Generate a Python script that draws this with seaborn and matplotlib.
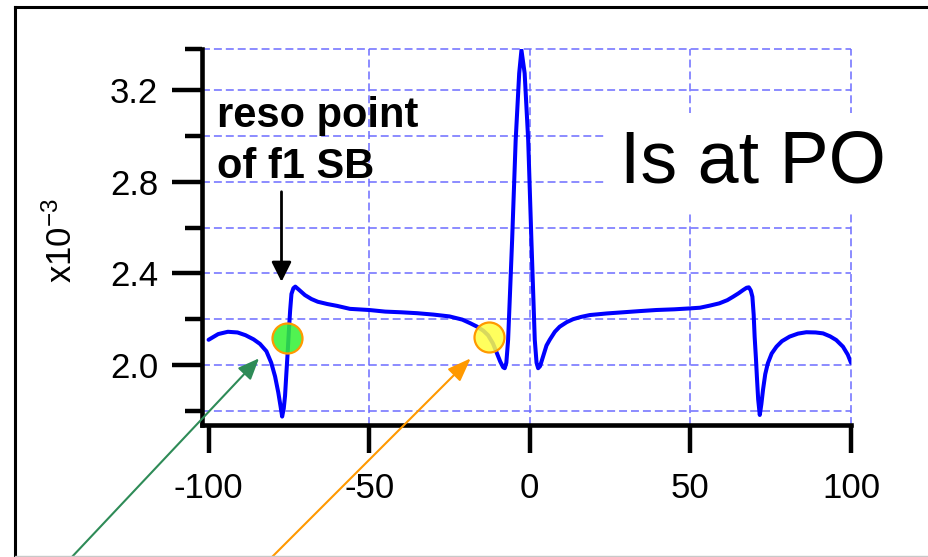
import matplotlib
matplotlib.use("Agg")
import matplotlib.pyplot as plt
import seaborn as sns
import pandas as pd
from matplotlib.lines import Line2D

# ---------------- data ----------------
x_vals = [-100, -97, -94, -91, -88.5, -86, -84, -82, -80.5, -79.3, -78.3, -77.6,
          -77.1, -76.6, -76.2, -75.8, -75.4, -75.0, -74.6, -74.2, -73.6, -73.0,
          -72, -70, -68, -66, -63, -60, -56, -50, -45, -40, -35, -30, -25, -21,
          -18.5, -16.5, -14.5, -13, -11.5, -10.2, -9.2, -8.3, -7.8, -7.3, -6.75,
          -6.2, -5.5, -4.4, -3.3, -2.6, -1.6, -0.5, 0.5, 1.55, 2.1, 2.6, 3.2, 4.2,
          5.2, 6.2, 7.8, 9.3, 11.5, 13.5, 16, 18.7, 24, 29, 34, 39.4, 45, 49.8,
          53, 56, 59, 61.5, 63.3, 65, 66.4, 67.5, 68.2, 68.8, 69.3, 69.7, 70.0,
          70.4, 70.7, 71.1, 71.6, 72.1, 72.6, 73.3, 74.1, 75.3, 76.8, 78.5, 80.9,
          83.5, 86.1, 89, 91.3, 93.5, 95.4, 97.5, 99, 100]
y_vals = [2.110, 2.135, 2.145, 2.142, 2.130, 2.112, 2.092, 2.060, 2.010, 1.950,
          1.880, 1.820, 1.775, 1.810, 1.865, 1.960, 2.050, 2.150, 2.240, 2.310,
          2.335, 2.342, 2.330, 2.305, 2.288, 2.276, 2.266, 2.258, 2.245, 2.240,
          2.233, 2.230, 2.226, 2.220, 2.212, 2.198, 2.182, 2.168, 2.150, 2.130,
          2.095, 2.050, 2.015, 1.990, 1.986, 2.010, 2.110, 2.300, 2.545, 2.980,
          3.273, 3.374, 3.273, 2.982, 2.545, 2.110, 2.010, 1.986, 1.995, 2.040,
          2.085, 2.110, 2.145, 2.167, 2.187, 2.200, 2.210, 2.218, 2.225, 2.230,
          2.235, 2.240, 2.243, 2.247, 2.250, 2.259, 2.269, 2.283, 2.298, 2.313,
          2.327, 2.337, 2.339, 2.325, 2.298, 2.220, 2.124, 2.030, 1.949, 1.850,
          1.782, 1.830, 1.891, 1.960, 2.007, 2.050, 2.080, 2.104, 2.124, 2.137,
          2.143, 2.142, 2.138, 2.125, 2.109, 2.080, 2.045, 2.010]

x_ticks = [-100, -50, 0, 50, 100]
x_tick_labels = ["-100", "-50", "0", "50", "100"]
y_major = [2.0, 2.4, 2.8, 3.2]
y_major_labels = ["2.0", "2.4", "2.8", "3.2"]
y_minor = [1.8, 2.2, 2.6, 3.0]
x_grid = [-50, 0, 50, 100]

title_text = "Is at PO"
note_lines = ["reso point", "of f1 SB"]
y_label = "x10$^{-3}$"

# annotation markers
green_pt = (-75.7, 2.119)
yellow_pt = (-12.76, 2.123)
green_tip = (-84.3, 2.029)
orange_tip = (-18.4, 2.029)
black_from = (-77.3, 2.756)
black_to = (-77.3, 2.363)

# ---------------- style ----------------
sns.set_style("white")
plt.rcParams["font.family"] = ["Liberation Sans", "DejaVu Sans"]
plt.rcParams["axes.unicode_minus"] = False
plt.rcParams["mathtext.default"] = "regular"
for k in ["text.color", "axes.labelcolor", "xtick.color", "ytick.color",
          "xtick.labelcolor", "ytick.labelcolor"]:
    plt.rcParams[k] = "black"

W, H = 929, 557
fig = plt.figure(figsize=(W / 100, H / 100), dpi=100)
fig.patch.set_facecolor("white")
ax = fig.add_axes([202 / W, (H - 425) / H, (851 - 202) / W, (425 - 49.3) / H])
ax.set_facecolor("white")

ax.set_xlim(-102.05, 100)
ax.set_ylim(1.7382, 3.3776)

grid_color = "#6c6cff"
grid_ls = (0, (5.2, 2.6))
ytop = ax.get_ylim()[1]
for yv in y_major + y_minor + [ytop]:
    ax.axhline(yv, color=grid_color, lw=1.1, ls=grid_ls, zorder=1, clip_on=False)
for xv in x_grid:
    ax.axvline(xv, color=grid_color, lw=1.1, ls=grid_ls, zorder=1, clip_on=False)

df = pd.DataFrame({"x": x_vals, "y": y_vals})
sns.lineplot(data=df, x="x", y="y", ax=ax, color="#0000ff", linewidth=2.9,
             zorder=3, estimator=None)

# spines
for s in ["top", "right"]:
    ax.spines[s].set_visible(False)
for s in ["left", "bottom"]:
    ax.spines[s].set_color("black")
    ax.spines[s].set_linewidth(3.3)

ax.set_xticks(x_ticks)
ax.set_xticklabels(x_tick_labels)
ax.set_yticks(y_major)
ax.set_yticklabels(y_major_labels)
ax.set_yticks(y_minor + [ytop], minor=True)
ax.tick_params(axis="x", which="major", direction="out", length=20, width=3.2,
               color="black", labelcolor="black", labelsize=25, pad=14, bottom=True)
ax.tick_params(axis="y", which="major", direction="out", length=21.6, width=3.2,
               color="black", labelcolor="black", labelsize=25, pad=10, left=True)
ax.tick_params(axis="y", which="minor", direction="out", length=12, width=3.2,
               color="black", left=True)
ax.tick_params(axis="x", which="minor", bottom=False)

ax.set_xlabel("")
ax.set_ylabel(y_label, fontsize=25, color="black")
ax.yaxis.set_label_coords(-0.19, 0.49)

# texts
ax.text(-97.5, 3.040, note_lines[0], fontsize=30, fontweight="bold",
        va="baseline", ha="left", zorder=5, color="black")
ax.text(-97.5, 2.815, note_lines[1], fontsize=30, fontweight="bold",
        va="baseline", ha="left", zorder=5, color="black")
ax.text(28.0, 2.798, title_text, fontsize=53, va="baseline", ha="left", zorder=2,
        color="black",
        bbox=dict(facecolor="white", edgecolor="none", boxstyle="square,pad=0.2"))

# markers
ax.plot([green_pt[0]], [green_pt[1]], "o", ms=21.6,
        mfc=(0.2, 0.95, 0.2, 0.85), mec="#ff9900", mew=1.6, zorder=4)
ax.plot([yellow_pt[0]], [yellow_pt[1]], "o", ms=21.6,
        mfc=(1.0, 1.0, 0.25, 0.85), mec="#ff9900", mew=1.6, zorder=4)

# arrows
ax.annotate("", xy=black_to, xytext=black_from,
            arrowprops=dict(arrowstyle="-|>,head_length=0.6,head_width=0.3",
                            color="black", lw=2.0, shrinkA=0, shrinkB=0,
                            mutation_scale=20), zorder=5)
ax.annotate("", xy=green_tip, xycoords="data", xytext=(70, -2),
            textcoords="figure pixels", annotation_clip=False,
            arrowprops=dict(arrowstyle="-|>,head_length=0.65,head_width=0.27",
                            color="#2e8b57", lw=1.5, shrinkA=0, shrinkB=0,
                            mutation_scale=20), zorder=5)
ax.annotate("", xy=orange_tip, xycoords="data", xytext=(270, -2),
            textcoords="figure pixels", annotation_clip=False,
            arrowprops=dict(arrowstyle="-|>,head_length=0.72,head_width=0.27",
                            color="#ff9900", lw=1.5, shrinkA=0, shrinkB=0,
                            mutation_scale=20), zorder=5)

# figure frame
fig.add_artist(Line2D([15 / W, 15 / W], [0, (H - 6.5) / H], color="black",
                      lw=2.2, transform=fig.transFigure, solid_capstyle="projecting"))
fig.add_artist(Line2D([15 / W, 1], [(H - 6.5) / H, (H - 6.5) / H], color="black",
                      lw=2.2, transform=fig.transFigure, solid_capstyle="projecting"))
fig.add_artist(Line2D([15 / W, 1], [0.8 / H, 0.8 / H], color="#c8c8c8",
                      lw=1.0, transform=fig.transFigure))

fig.savefig("out.png", dpi=100, facecolor="white")
